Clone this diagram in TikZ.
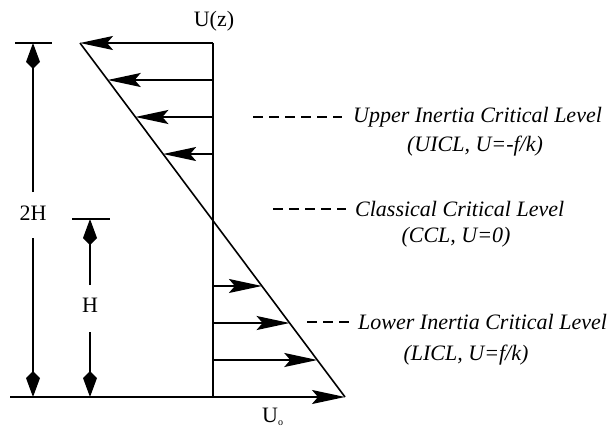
\documentclass[tikz,border=0pt]{standalone}
\usepackage{fontspec}
\setmainfont{Liberation Serif}
\usepackage{tikz}
\usetikzlibrary{arrows.meta,calc,positioning}

\tikzset{
  prof/.style={line width=1.6pt},
  flowarrow/.style={line width=1.6pt, -{Stealth[length=33pt,width=14pt,inset=6pt]}},
  dimarrow/.style={line width=1.6pt, -{Kite[length=26pt,width=14pt,inset=7pt]}},
  levelline/.style={line width=1.1pt, dash pattern=on 10pt off 6pt},
  lbl/.style={inner sep=0pt, font=\fontsize{22}{26}\selectfont},
  lvltext/.style={inner sep=0pt, font=\fontsize{22}{26}\selectfont\itshape},
}

\begin{document}
\begin{tikzpicture}[x=1pt, y=1pt]
  \useasboundingbox (0,0) rectangle (613,432);
  % profile
  \coordinate (ztop) at (213,389);
  \coordinate (zbot) at (213,35);
  \coordinate (utop) at (80,389);
  \coordinate (ubot) at (345,35);
  \coordinate (axleft) at (10,35);
  \draw[prof] (ztop) -- (zbot);
  \draw[prof] (utop) -- (ubot);
  \draw[flowarrow] (ztop) -- (utop);
  \draw[flowarrow] (axleft) -- (ubot);
  \foreach \t in {0.1045,0.209,0.3136, 0.6864,0.791,0.8955} {
    \path ($(utop)!\t!(ubot)$) coordinate (tip);
    \draw[flowarrow] (tip -| ztop) -- (tip);
  }
  \node[lbl, anchor=base] (uz) at (214,405) {U(z)};
  \node[lbl, anchor=base west] (uo) at (262,10) {U\raisebox{-3pt}{\fontsize{10}{10}\selectfont o}};

  % heights
  \coordinate (tickA) at (15,389);  \coordinate (tickB) at (52,389);
  \coordinate (tickC) at (72,213);  \coordinate (tickD) at (110,213);
  \draw[prof] (tickA) -- (tickB);
  \draw[prof] (tickC) -- (tickD);
  \node[lbl, anchor=base] (twoh) at (33,212) {2H};
  \node[lbl, anchor=base] (oneh) at (90,120) {H};
  \draw[dimarrow] (33,240) -- (tickA -| twoh);
  \draw[dimarrow] (33,194) -- (axleft -| twoh);
  \draw[dimarrow] (90,147) -- (tickC -| oneh);
  \draw[dimarrow] (90,100) -- (axleft -| oneh);

  % critical levels
  \coordinate (uiclA) at (253,315); \coordinate (uiclB) at (342,315);
  \coordinate (cclA) at (273,223);  \coordinate (cclB) at (346,223);
  \coordinate (liclA) at (307,110); \coordinate (liclB) at (349,110);
  \draw[levelline] (uiclA) -- (uiclB);
  \draw[levelline] (cclA) -- (cclB);
  \draw[levelline] (liclA) -- (liclB);
  \node[lvltext, right=11pt of uiclB] (uicl) {Upper Inertia Critical Level};
  \node[lvltext, right=9pt of cclB] (ccl) {Classical Critical Level};
  \node[lvltext, right=9pt of liclB] (licl) {Lower Inertia Critical Level};
  \node[lvltext, anchor=base] (uiclsub) at (475,280) {(UICL, U=-f/k)};
  \node[lvltext, anchor=base] (cclsub) at (456,190) {(CCL, U=0)};
  \node[lvltext, anchor=base] (liclsub) at (466,72) {(LICL, U=f/k)};
\end{tikzpicture}
\end{document}
